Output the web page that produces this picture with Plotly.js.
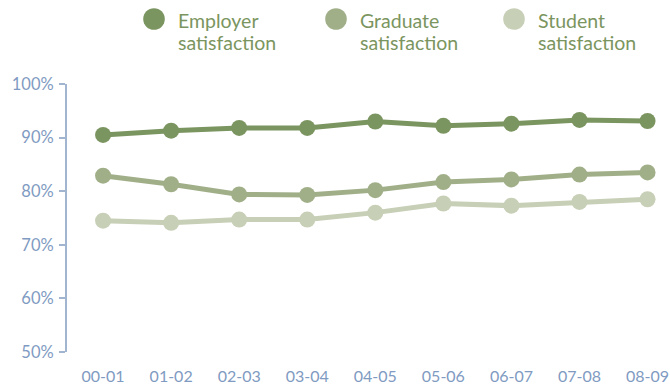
<!DOCTYPE html>
<html>
<head>
<meta charset="utf-8">
<script src="https://cdn.plot.ly/plotly-3.0.1.min.js"></script>
<style>
  html, body { margin: 0; padding: 0; background: #ffffff; }
  #chart { width: 670px; height: 390px; }
</style>
</head>
<body>
<div id="chart"></div>
<script>
// Academic years on the x axis
const years = ['00-01', '01-02', '02-03', '03-04', '04-05', '05-06', '06-07', '07-08', '08-09'];

// Satisfaction rates, in percent
const employerSatisfaction = [90.5, 91.3, 91.8, 91.8, 93.0, 92.2, 92.6, 93.3, 93.1];
const graduateSatisfaction = [82.9, 81.3, 79.4, 79.3, 80.2, 81.7, 82.2, 83.1, 83.5];
const studentSatisfaction  = [74.5, 74.1, 74.7, 74.7, 76.0, 77.7, 77.3, 78.0, 78.5];

const seriesNames = ['Employer satisfaction', 'Graduate satisfaction', 'Student satisfaction'];
const seriesColors = ['#7b9560', '#a1af89', '#c7cfb6'];
const yTickValues = [50, 60, 70, 80, 90, 100];
const yTickLabels = ['50%', '60%', '70%', '80%', '90%', '100%'];

const seriesValues = [employerSatisfaction, graduateSatisfaction, studentSatisfaction];
const FONT = 'Lato, "Open Sans", sans-serif';

// Draw the lightest line first so the darker ones sit on top
const traces = seriesValues.map((vals, i) => ({
  type: 'scatter',
  mode: 'lines+markers',
  x: years.map((_, k) => k),
  y: vals,
  name: seriesNames[i],
  line: { color: seriesColors[i], width: 5 },
  marker: { color: seriesColors[i], size: 16 },
  showlegend: false,
  cliponaxis: false
})).reverse();

// Key across the top: a coloured dot and a two-line label per series
const plotLeft = 67, plotTop = 84;
const keyDotX = [154, 336, 514];
const keyTextX = [177, 359, 537];
const keyDotY = 19, keyDotR = 10.8;
const keyLineY = [20, 42.5];

const shapes = seriesColors.map((c, i) => ({
  type: 'circle',
  xref: 'paper', yref: 'paper',
  xsizemode: 'pixel', ysizemode: 'pixel',
  xanchor: 0, yanchor: 1,
  x0: keyDotX[i] - plotLeft - keyDotR, x1: keyDotX[i] - plotLeft + keyDotR,
  y0: plotTop - keyDotY - keyDotR, y1: plotTop - keyDotY + keyDotR,
  fillcolor: c, line: { width: 0 }
}));

const annotations = [];
seriesNames.forEach((n, i) => {
  const words = n.split(' ');
  words.forEach((w, j) => {
    annotations.push({
      text: w,
      xref: 'paper', yref: 'paper',
      x: 0, y: 1,
      xanchor: 'left', yanchor: 'middle',
      xshift: keyTextX[i] - plotLeft,
      yshift: plotTop - keyLineY[j],
      borderpad: 0,
      showarrow: false,
      font: { family: FONT, size: 19.5, color: '#7b9560' }
    });
  });
});

const layout = {
  width: 670,
  height: 390,
  margin: { l: plotLeft, r: 0, t: plotTop, b: 38 },
  paper_bgcolor: '#ffffff',
  plot_bgcolor: '#ffffff',
  showlegend: false,
  font: { family: FONT, color: '#7f9bc2' },
  xaxis: {
    range: [-0.53, 8.33],
    tickmode: 'array',
    tickvals: years.map((_, k) => k),
    ticktext: years,
    showline: false,
    showgrid: false,
    zeroline: false,
    ticks: '',
    ticklabelstandoff: 13,
    tickfont: { family: FONT, size: 16, color: '#7f9bc2' },
    fixedrange: true
  },
  yaxis: {
    range: [50, 100],
    tickmode: 'array',
    tickvals: yTickValues,
    ticktext: yTickLabels,
    showline: true,
    linecolor: '#a2b5d0',
    linewidth: 2,
    ticks: 'outside',
    ticklen: 6,
    tickwidth: 2,
    tickcolor: '#a2b5d0',
    ticklabelstandoff: 2,
    showgrid: false,
    zeroline: false,
    tickfont: { family: FONT, size: 16.5, color: '#7f9bc2' },
    fixedrange: true
  },
  shapes: shapes,
  annotations: annotations
};

Plotly.newPlot('chart', traces, layout, { displayModeBar: false, staticPlot: true });
</script>
</body>
</html>
